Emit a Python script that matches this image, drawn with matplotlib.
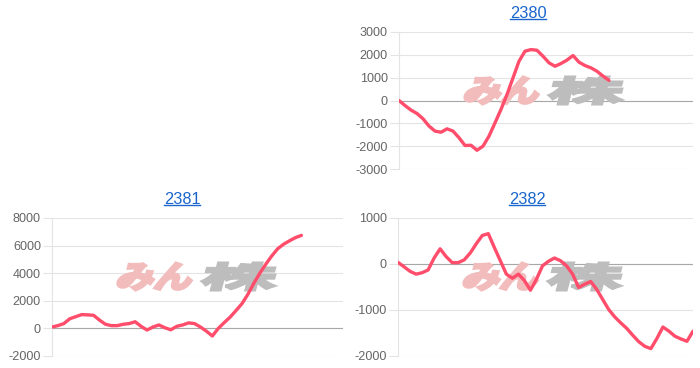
import math
import matplotlib
matplotlib.use("Agg")
import matplotlib.pyplot as plt
from matplotlib.textpath import TextPath
from matplotlib.font_manager import FontProperties
from matplotlib.patches import PathPatch
from matplotlib.transforms import Affine2D
from matplotlib.lines import Line2D

plt.rcParams['font.family'] = ['Liberation Sans', 'DejaVu Sans']

# ---- data ----
titles = ["2380", "2381", "2382"]
n_slots = 50

values_2380 = [0, -220, -420, -570, -800, -1120, -1340, -1390, -1240, -1340,
               -1630, -1970, -1960, -2180, -2000, -1560, -980, -390, 260, 990,
               1720, 2160, 2230, 2200, 1940, 1650, 1500, 1620, 1770, 1970,
               1680, 1530, 1430, 1280, 1070, 880]
values_2381 = [100, 200, 350, 700, 850, 1000, 980, 950, 600, 300,
               200, 200, 300, 350, 480, 150, -120, 100, 250, 50,
               -100, 150, 250, 400, 350, 100, -200, -550, 0, 420,
               820, 1300, 1800, 2480, 3280, 4000, 4650, 5250, 5770, 6100,
               6350, 6580, 6740]
values_2382 = [35, -60, -160, -220, -190, -130, 130, 330, 160, 30,
               30, 90, 240, 440, 620, 660, 360, 70, -220, -310,
               -220, -360, -570, -330, -40, 60, 130, 70, -40, -220,
               -510, -440, -380, -550, -770, -990, -1150, -1280, -1400, -1550,
               -1690, -1790, -1840, -1620, -1370, -1460, -1570, -1630, -1680, -1460]

yticks_2380 = [-3000, -2000, -1000, 0, 1000, 2000, 3000]
yticks_2381 = [-2000, 0, 2000, 4000, 6000, 8000]
yticks_2382 = [-2000, -1000, 0, 1000]

W, H = 700, 368
fig = plt.figure(figsize=(W / 100, H / 100), dpi=100)

LINE = '#ff4d6b'
GRID = '#e4e4e4'
ZERO = '#a8a8a8'
LINK = '#1a66cc'

# axes boxes in pixels: left, top, right, bottom (from top)
panels = [
    dict(vals=values_2380, ticks=yticks_2380, box=(399, 32, 693, 169), title=titles[0], tpos=(528, 13)),
    dict(vals=values_2381, ticks=yticks_2381, box=(52, 218, 343, 356), title=titles[1], tpos=(182, 199)),
    dict(vals=values_2382, ticks=yticks_2382, box=(398, 218, 693, 356), title=titles[2], tpos=(527, 199)),
]

fp_wm = FontProperties(family='Noto Sans CJK JP', weight='bold')


def watermark(ax, left, top, text, color, w, h):
    path = TextPath((0, 0), text, prop=fp_wm, size=1)
    ext = path.get_extents()
    skew = 15
    extra = math.tan(math.radians(skew)) * h
    sx = (w - extra) / ext.width
    sy = h / ext.height
    tr = (Affine2D().translate(-ext.x0, -ext.y0).scale(sx, sy)
          .skew_deg(skew, 0).translate(left, H - top - h))
    patch = PathPatch(path, transform=tr, facecolor=color, edgecolor=color,
                      lw=2.2, joinstyle='miter', zorder=1, clip_on=False)
    ax.add_patch(patch)


title_texts = []
for p in panels:
    l, t, r, b = p['box']
    ax = fig.add_axes([l / W, (H - b) / H, (r - l) / W, (b - t) / H])
    ax.set_axisbelow(True)
    x = list(range(len(p['vals'])))
    ax.plot(x, p['vals'], color=LINE, lw=2.4, solid_joinstyle='round',
            solid_capstyle='round', zorder=3)
    ax.set_xlim(0, n_slots - 1)
    ax.set_ylim(p['ticks'][0], p['ticks'][-1])
    ax.set_yticks(p['ticks'])
    ax.set_yticklabels([str(v) for v in p['ticks']])
    ax.set_xticks([])
    ax.grid(axis='y', color=GRID, lw=0.8)
    ax.axhline(0, color=ZERO, lw=0.8, zorder=0.6)
    for s in ['top', 'right', 'bottom']:
        ax.spines[s].set_visible(False)
    ax.spines['left'].set_color(GRID)
    ax.spines['left'].set_linewidth(0.8)
    ax.tick_params(axis='y', length=6.5, width=0.8, color=GRID, pad=1.5,
                   labelsize=9.1, labelcolor='#666666')
    ax.patch.set_alpha(0)

    watermark(ax, l + 64, t + 45, "みん", '#f2bcbc', 80, 27)
    watermark(ax, l + 148, t + 45, "株", '#bdbdbd', 80, 27)

    tx, ty = p['tpos']
    tt = fig.text(tx / W, (H - ty) / H, p['title'], ha='center', va='center',
                  fontsize=11.8, color=LINK)
    title_texts.append(tt)

fig.canvas.draw()
for tt in title_texts:
    bb = tt.get_window_extent()
    y = bb.y0 + 1.5
    fig.add_artist(Line2D([bb.x0 / W, bb.x1 / W], [y / H, y / H],
                          transform=fig.transFigure, color=LINK, lw=1.0))

fig.savefig('out.png', dpi=100)
